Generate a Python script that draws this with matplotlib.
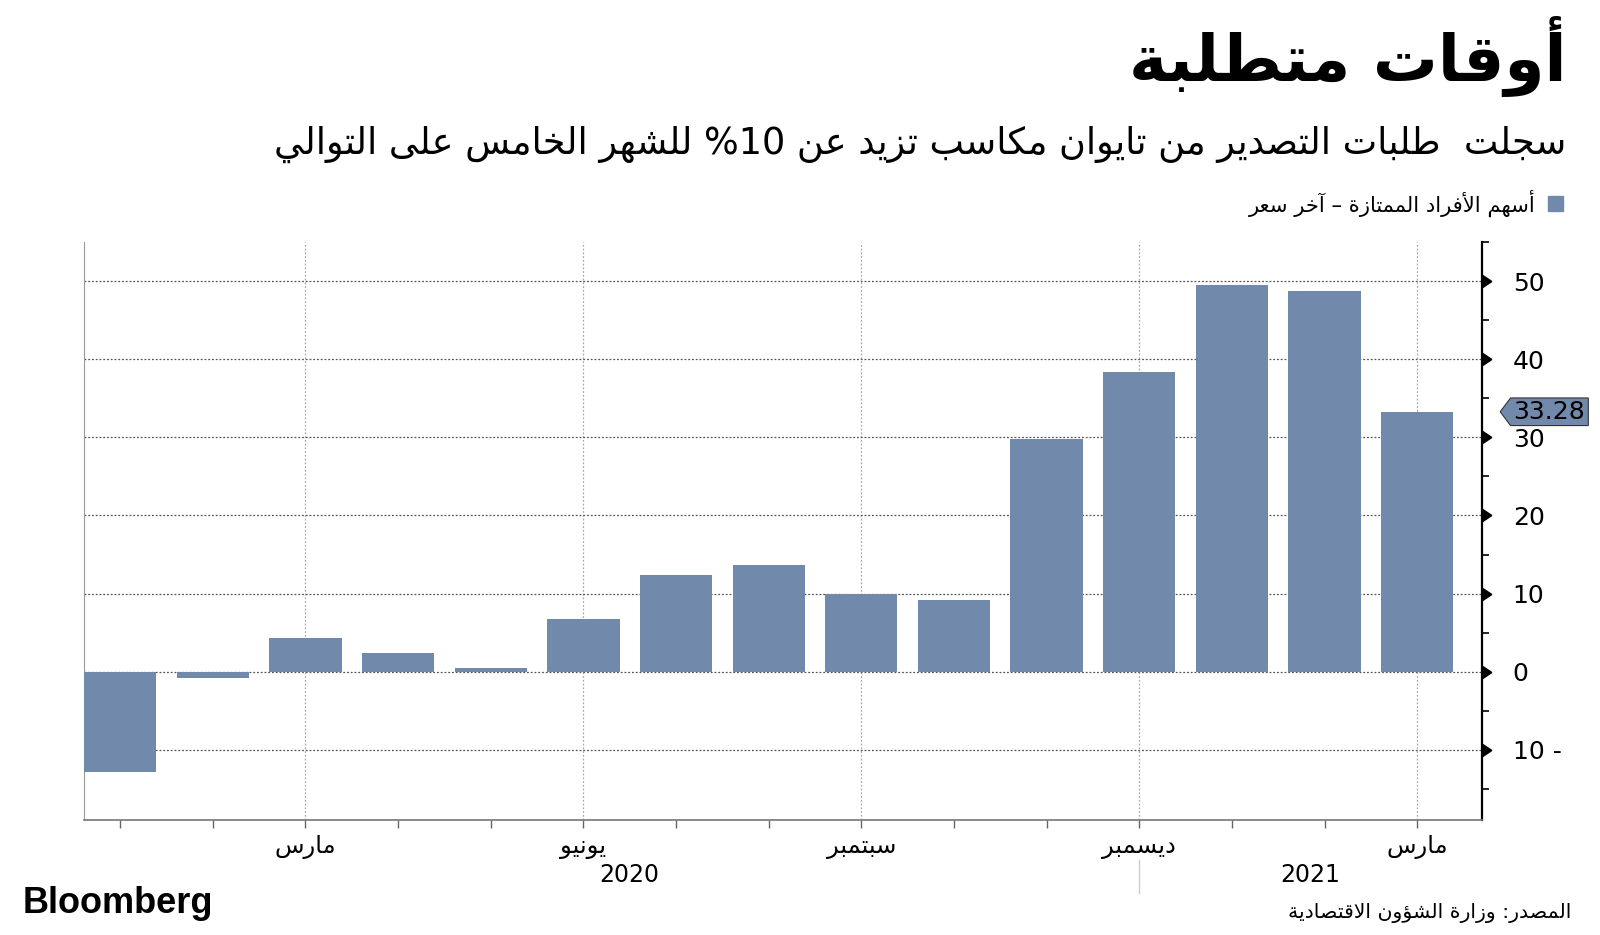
import re
import numpy as np
import matplotlib
matplotlib.use("Agg")
from matplotlib import pyplot as plt
from matplotlib.path import Path
from matplotlib.patches import Rectangle

# data: Taiwan export orders, % y/y, Jan 2020 - Mar 2021
months = ["يناير", "فبراير", "مارس", "أبريل", "مايو", "يونيو", "يوليو", "أغسطس",
          "سبتمبر", "أكتوبر", "نوفمبر", "ديسمبر", "يناير", "فبراير", "مارس"]
values = [-12.8, -0.8, 4.3, 2.4, 0.5, 6.7, 12.4, 13.7, 9.9, 9.2, 29.8, 38.4, 49.5, 48.8, 33.28]
label_months = [2, 5, 8, 11, 14]
years = ["2020", "2021"]
year_pos = [5.5, 12.85]
yticks = [-10, 0, 10, 20, 30, 40, 50]

title = "أوقات متطلبة"
subtitle = "سجلت  طلبات التصدير من تايوان مكاسب تزيد عن 10% للشهر الخامس على التوالي"
legend_label = "أسهم الأفراد الممتازة – آخر سعر"
source = "المصدر: وزارة الشؤون الاقتصادية"

BAR = "#7189ab"

# --- small arabic shaper (matplotlib draws glyphs left to right, no joining) ---
RIGHT = {'\u0622': 0xFE81, '\u0623': 0xFE83, '\u0624': 0xFE85, '\u0625': 0xFE87,
         '\u0627': 0xFE8D, '\u0629': 0xFE93, '\u062F': 0xFEA9, '\u0630': 0xFEAB,
         '\u0631': 0xFEAD, '\u0632': 0xFEAF, '\u0648': 0xFEED, '\u0649': 0xFEEF}
DUAL = {'\u0626': 0xFE89, '\u0628': 0xFE8F, '\u062A': 0xFE95, '\u062B': 0xFE99,
        '\u062C': 0xFE9D, '\u062D': 0xFEA1, '\u062E': 0xFEA5, '\u0633': 0xFEB1,
        '\u0634': 0xFEB5, '\u0635': 0xFEB9, '\u0636': 0xFEBD, '\u0637': 0xFEC1,
        '\u0638': 0xFEC5, '\u0639': 0xFEC9, '\u063A': 0xFECD, '\u0641': 0xFED1,
        '\u0642': 0xFED5, '\u0643': 0xFED9, '\u0644': 0xFEDD, '\u0645': 0xFEE1,
        '\u0646': 0xFEE5, '\u0647': 0xFEE9, '\u064A': 0xFEF1}
LAMALEF = {'\u0622': 0xFEF5, '\u0623': 0xFEF7, '\u0625': 0xFEF9, '\u0627': 0xFEFB}


def shape(s):
    items = []
    i = 0
    while i < len(s):
        c = s[i]
        if c == '\u0644' and i + 1 < len(s) and s[i + 1] in LAMALEF:
            items.append((LAMALEF[s[i + 1]], 2, None)); i += 2; continue
        if c in DUAL:
            items.append((DUAL[c], 4, None))
        elif c in RIGHT:
            items.append((RIGHT[c], 2, None))
        elif c == '\u0621':
            items.append((0xFE80, 1, None))
        else:
            items.append((0, 0, c))
        i += 1
    out = []
    for k, (base, n, raw) in enumerate(items):
        if n == 0:
            out.append(raw); continue
        prev_ok = k > 0 and items[k - 1][1] == 4
        next_ok = n == 4 and k + 1 < len(items) and items[k + 1][1] in (2, 4)
        if n == 1:
            f = 0
        elif prev_ok and next_ok:
            f = 3
        elif prev_ok:
            f = 1
        elif next_ok:
            f = 2
        else:
            f = 0
        out.append(chr(base + f))
    return ''.join(out)


def ar(s):
    runs = re.findall(r'[0-9.]+|[^0-9.]+', shape(s))
    return ''.join(r if r[0] in '0123456789.' else r[::-1] for r in reversed(runs))


def pentagon(x0, y0, width, height, mutation_size):
    p = 0.12 * mutation_size
    x0, y0, x1, y1 = x0 - p, y0 - p * 0.6, x0 + width + p, y0 + height + p * 0.6
    tip = 0.5 * (y1 - y0)
    verts = [(x0 - tip * 0.75, (y0 + y1) / 2), (x0, y0), (x1, y0), (x1, y1), (x0, y1),
             (x0 - tip * 0.75, (y0 + y1) / 2)]
    return Path(verts, [Path.MOVETO] + [Path.LINETO] * 4 + [Path.CLOSEPOLY])


plt.rcParams['font.family'] = ['DejaVu Sans']

fig = plt.figure(figsize=(16, 9.35), dpi=100)
ax = fig.add_axes([0.0525, 0.123, 0.8738, 0.618])

x = np.arange(len(values))
ax.bar(x, values, width=0.78, color=BAR, zorder=3)

ax.set_xlim(-0.39, 14.7)
ax.set_ylim(-19, 55)

# y axis on the right
ax.yaxis.tick_right()
ax.set_yticks(yticks)
ax.set_yticklabels([str(v) if v >= 0 else "%d -" % abs(v) for v in yticks], fontsize=18)
ax.set_yticks(np.arange(-15, 56, 10), minor=True)
ax.tick_params(axis='y', which='major', length=0, pad=22)
ax.tick_params(axis='y', which='minor', length=5, width=1.2, color='black', right=True, left=False)
ax.scatter(np.ones(len(yticks)), yticks, marker=9, s=70, color='black',
           transform=ax.get_yaxis_transform(), clip_on=False, zorder=5)
ax.grid(axis='y', which='major', linestyle=(0, (1.5, 1.5)), color='#555555', linewidth=0.9, zorder=1)

# x axis
ax.set_xticks(label_months)
ax.set_xticklabels([ar(months[i]) for i in label_months], fontsize=17.5)
ax.set_xticks(x, minor=True)
ax.tick_params(axis='x', which='both', length=6, width=1, color='#666666', pad=5)
ax.grid(axis='x', which='major', linestyle=(0, (1.5, 1.5)), color='#aaaaaa', linewidth=0.9, zorder=1)

for yr, xp in zip(years, year_pos):
    ax.text(xp, -0.095, yr, transform=ax.get_xaxis_transform(), ha='center', va='center', fontsize=17)
ax.plot([11, 11], [-0.069, -0.126], transform=ax.get_xaxis_transform(), color='#cccccc',
        linewidth=1, clip_on=False)

ax.spines['top'].set_visible(False)
ax.spines['right'].set_color('black')
ax.spines['right'].set_linewidth(1.6)
ax.spines['left'].set_color('#999999')
ax.spines['bottom'].set_color('#777777')
ax.spines['bottom'].set_linewidth(1.2)

# last value tag
ax.text(1.0225, values[-1], "%.2f" % values[-1], transform=ax.get_yaxis_transform(),
        ha='left', va='center', fontsize=18, color='black', zorder=6, clip_on=False,
        bbox=dict(boxstyle=pentagon, facecolor=BAR, edgecolor='#333333', linewidth=0.8))

# titles
fig.text(0.979, 0.940, ar(title), ha='right', va='center', fontsize=46.5, fontweight='bold')
fig.text(0.979, 0.846, ar(subtitle), ha='right', va='center', fontsize=26.4)
fig.patches.append(Rectangle((1548 / 1600, 1 - 211 / 935), 15 / 1600, 15 / 935,
                             transform=fig.transFigure, color=BAR))
fig.text(0.96, 0.782, ar(legend_label), ha='right', va='center', fontsize=15.2)

fig.text(0.014, 0.034, "Bloomberg", ha='left', va='center', fontsize=26, fontweight='bold',
         family=['Liberation Sans', 'DejaVu Sans'])
fig.text(0.982, 0.0235, ar(source), ha='right', va='center', fontsize=14.7)

fig.savefig("out.png", dpi=100)
